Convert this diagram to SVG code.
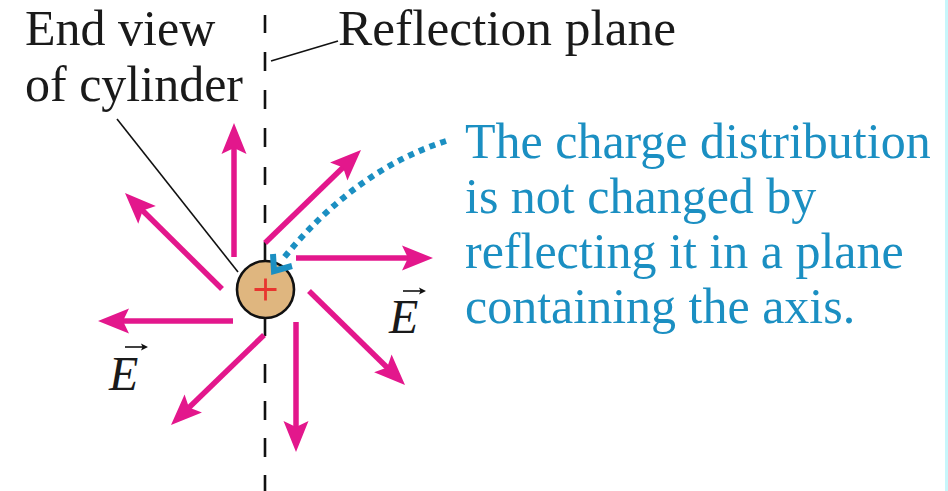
<svg xmlns="http://www.w3.org/2000/svg" width="948" height="491" viewBox="0 0 948 491">
<style>
.lbl{font-family:"Liberation Serif","Times New Roman",serif;font-size:50px;fill:#1a1a1a}
.blue{font-family:"Liberation Serif","Times New Roman",serif;font-size:50px;fill:#1b8fc2}
.ev{font-family:"Liberation Serif","Times New Roman",serif;font-size:48px;font-style:italic;fill:#1a1a1a}
.shaft{stroke:#e3178c;stroke-width:5.5;fill:none}
.ah{fill:#e3178c}
.thin{stroke:#111;stroke-width:1.6;fill:none}
</style>
<defs>
<path id="ah" d="M0,0 L-31,-12.5 L-25,0 L-31,12.5 Z"/>
<path id="sa" d="M0,0 L-7,-3.5 L-5.5,0 L-7,3.5 Z"/>
</defs>
<rect x="0" y="0" width="948" height="491" fill="#ffffff"/>
<rect x="945" y="0" width="3" height="491" fill="#c8f6fb"/>

<g id="plane">
<path d="M265,15V33 M265,52V71 M265,90V109 M265,128V147 M265,167V185 M265,205V223 M265,242V336 M265,364V383 M265,401V420 M265,438V457 M265,475V491" stroke="#111" stroke-width="2.6" fill="none"/>
</g>

<g id="cylinder">
<circle cx="265.5" cy="289.5" r="28.5" fill="#dfb67f" stroke="#111" stroke-width="2.6"/>
<path d="M254.5,289.5H276.5 M265.5,278.5V300.5" stroke="#e8352f" stroke-width="2.8"/>
</g>

<g id="connectors">
<line class="thin" x1="271" y1="61" x2="338" y2="41"/>
<line class="thin" x1="117" y1="119" x2="238" y2="272"/>
<g id="field-arrows">
<line class="shaft" x1="234" y1="257" x2="234" y2="143"/>
<use href="#ah" class="ah" transform="translate(234,123) rotate(-90)"/>
<line class="shaft" x1="222" y1="289" x2="139" y2="207"/>
<use href="#ah" class="ah" transform="translate(125,193) rotate(-135.3)"/>
<line class="shaft" x1="233" y1="321" x2="118" y2="321"/>
<use href="#ah" class="ah" transform="translate(98,321) rotate(180)"/>
<line class="shaft" x1="264" y1="335" x2="185.4" y2="411.1"/>
<use href="#ah" class="ah" transform="translate(171,425) rotate(135.9)"/>
<line class="shaft" x1="296" y1="322" x2="296" y2="432"/>
<use href="#ah" class="ah" transform="translate(296,452) rotate(90)"/>
<line class="shaft" x1="309" y1="291" x2="390.7" y2="371"/>
<use href="#ah" class="ah" transform="translate(405,385) rotate(44.4)"/>
<line class="shaft" x1="296" y1="258" x2="413" y2="258"/>
<use href="#ah" class="ah" transform="translate(433,258) rotate(0)"/>
<line class="shaft" x1="265" y1="243" x2="346.6" y2="164"/>
<use href="#ah" class="ah" transform="translate(361,150) rotate(-44.1)"/>
</g>
<g id="pointer">
<path d="M446,141 Q355,170 282,260" stroke="#1b8fc2" stroke-width="6" stroke-dasharray="6 5.5" fill="none"/>
<polyline points="273,254 274,271 292,266" stroke="#1b8fc2" stroke-width="6" fill="none" stroke-linejoin="miter"/>
</g>
</g>

<g id="label-end-view">
<text class="lbl" x="25" y="45">End view</text>
<text class="lbl" x="25" y="101">of cylinder</text>
</g>
<g id="label-plane">
<text class="lbl" x="338" y="45" textLength="338" lengthAdjust="spacingAndGlyphs">Reflection plane</text>
</g>
<g id="label-note">
<text class="blue" x="465" y="158">The charge distribution</text>
<text class="blue" x="465" y="213">is not changed by</text>
<text class="blue" x="465" y="268">reflecting it in a plane</text>
<text class="blue" x="465" y="323">containing the axis.</text>
</g>
<g id="label-E-right">
<text class="ev" x="389" y="333">E</text>
<line class="thin" x1="403" y1="291" x2="421" y2="291"/>
<use href="#sa" fill="#111" transform="translate(426,291)"/>
</g>
<g id="label-E-left">
<text class="ev" x="109" y="390">E</text>
<line class="thin" x1="125" y1="347" x2="143" y2="347"/>
<use href="#sa" fill="#111" transform="translate(148,347)"/>
</g>
</svg>
